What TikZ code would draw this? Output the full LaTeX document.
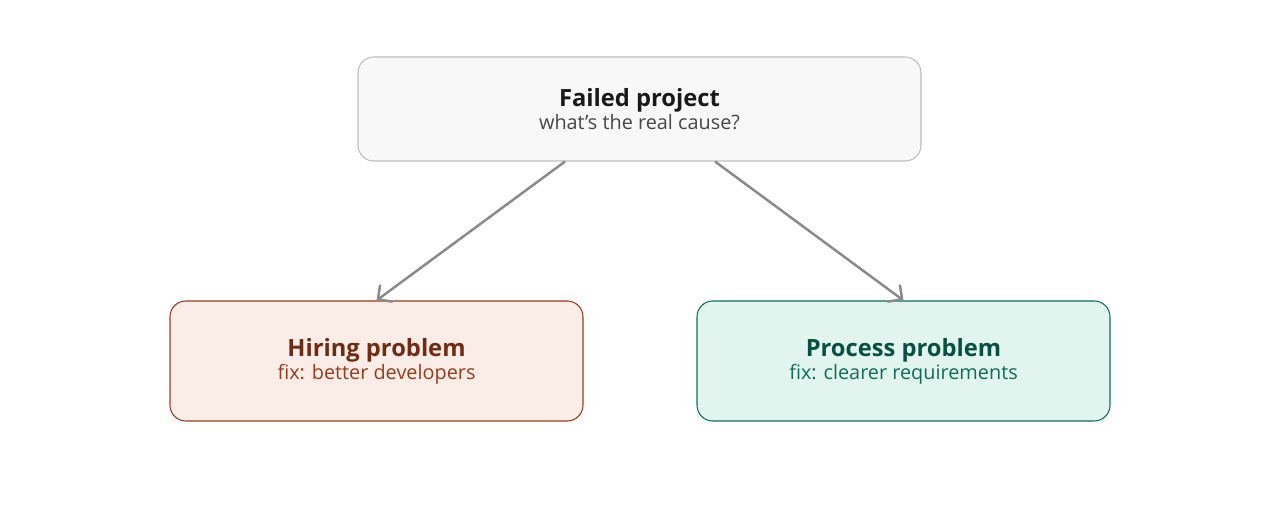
\documentclass[tikz,border=0pt]{standalone}
\usepackage{fontspec}
\setmainfont{Open Sans}
\usetikzlibrary{calc,arrows.meta}
\definecolor{topfill}{HTML}{F8F8F8}
\definecolor{topdraw}{HTML}{BDBDBD}
\definecolor{hirefill}{HTML}{FAECE7}
\definecolor{hiredraw}{HTML}{993C1D}
\definecolor{hiretext}{HTML}{712B13}
\definecolor{procfill}{HTML}{E1F5EE}
\definecolor{procdraw}{HTML}{0F6E56}
\definecolor{proctext}{HTML}{085041}
\definecolor{arrowgray}{HTML}{8A8A8A}
\tikzset{
  box/.style={rounded corners=9pt,line width=0.6pt,align=center,inner sep=0pt},
  link/.style={draw=arrowgray,line width=1.4pt,-{Straight Barb[length=6pt,width=12pt]}},
}
\begin{document}
\begin{tikzpicture}
  \useasboundingbox (0,0) rectangle (25.6,10.16);
  % question box
  \node[box,fill=topfill,draw=topdraw,minimum width=11.26cm,minimum height=2.08cm]
    (top) at (12.79,7.98)
    {{\fontsize{13.5pt}{16pt}\selectfont\bfseries\color{black!90}Failed project}\\[1pt]
     {\fontsize{11.3pt}{14pt}\selectfont\color{black!72}what's the real cause?}};
  % two answers
  \node[box,fill=hirefill,draw=hiredraw,minimum width=8.26cm,minimum height=2.4cm]
    (hire) at (7.53,2.94)
    {{\fontsize{13.5pt}{16pt}\selectfont\bfseries\color{hiretext}Hiring problem}\\[1pt]
     {\fontsize{11.3pt}{14pt}\selectfont\color{hiredraw}fix: better developers}};
  \node[box,fill=procfill,draw=procdraw,minimum width=8.26cm,minimum height=2.4cm]
    (proc) at (18.07,2.94)
    {{\fontsize{13.5pt}{16pt}\selectfont\bfseries\color{proctext}Process problem}\\[1pt]
     {\fontsize{11.3pt}{14pt}\selectfont\color{procdraw}fix: clearer requirements}};

  \draw[link] ($(top.south)+(-1.49,0)$) -- (hire.north);
  \draw[link] ($(top.south)+(1.51,0)$) -- (proc.north);
\end{tikzpicture}
\end{document}
